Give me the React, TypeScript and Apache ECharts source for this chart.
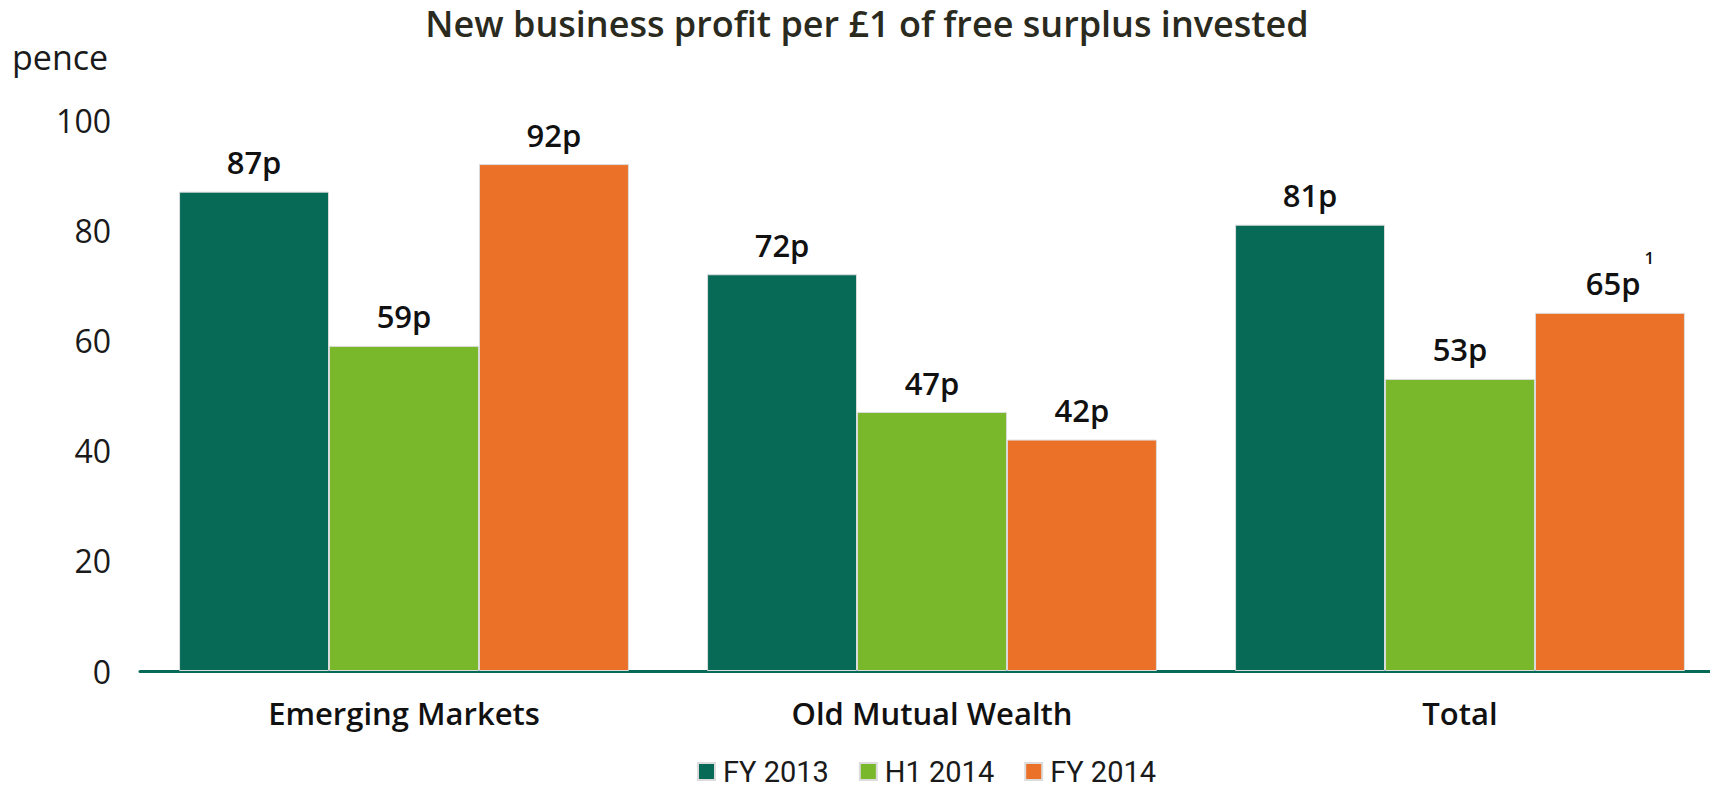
import React, { useEffect, useRef } from "react";
import * as echarts from "echarts";

const title = "New business profit per £1 of free surplus invested";
const yUnit = "pence";
const categories = ["Emerging Markets", "Old Mutual Wealth", "Total"];
const seriesNames = ["FY 2013", "H1 2014", "FY 2014"];
const fy2013 = [87, 72, 81];
const h12014 = [59, 47, 53];
const fy2014 = [92, 42, 65];
const fy2014Notes = ["", "", "1"];
const colors = ["#076A57", "#78B82A", "#EB7128"];

const FONT = "'Open Sans', 'Noto Sans', sans-serif";

export default function App() {
  const ref = useRef<HTMLDivElement>(null);
  useEffect(() => {
    document.body.style.margin = "0";
    const chart = echarts.init(ref.current!, undefined, { renderer: "svg" });
    const labelBase = {
      show: true,
      position: "top" as const,
      distance: 14,
      fontFamily: FONT,
      fontSize: 31,
      fontWeight: 600,
      color: "#111",
    };
    const makeSeries = (name: string, data: number[], color: string, notes?: string[]) => ({
      name,
      type: "bar",
      data,
      barGap: "0%",
      barCategoryGap: "14.8%",
      itemStyle: { color, borderColor: "#dcdcdc", borderWidth: 1 },
      label: {
        ...labelBase,
        formatter: (p: any) => {
          const note = notes ? notes[p.dataIndex] : "";
          return note ? `{v|${p.value}p}{s|${note}}` : `${p.value}p`;
        },
        rich: {
          v: {
            fontFamily: FONT,
            fontSize: 31,
            fontWeight: 600,
            color: "#111",
            padding: [0, 0, 0, 20],
            lineHeight: 50,
            verticalAlign: "bottom",
          },
          s: {
            fontFamily: FONT,
            fontSize: 17,
            color: "#111",
            padding: [0, 0, 0, 4],
            lineHeight: 50,
            verticalAlign: "top",
          },
        },
      },
    });
    chart.setOption({
      animation: false,
      backgroundColor: "#fff",
      color: colors,
      title: {
        text: title,
        left: 862,
        textAlign: "center",
        top: 0,
        textStyle: { fontFamily: FONT, fontSize: 36, fontWeight: 600, color: "#2a2a1e" },
      },
      graphic: [
        {
          type: "text",
          left: 12,
          top: 40,
          style: { text: yUnit, fontFamily: FONT, fontSize: 34, fill: "#1a1a1a" },
        },
      ],
      legend: {
        data: seriesNames,
        left: 692,
        top: 752,
        icon: "rect",
        itemWidth: 17,
        itemHeight: 17,
        itemGap: 30,
        textStyle: {
          fontFamily: "Roboto, 'Open Sans', sans-serif",
          fontSize: 29,
          lineHeight: 29,
          color: "#1a1a1a",
          padding: [0, 0, 0, 3],
        },
      },
      grid: {
        left: 140,
        width: 1584,
        top: 120,
        bottom: 123,
        containLabel: false,
        outerBoundsMode: "none",
      },
      xAxis: {
        type: "category",
        data: categories,
        axisLine: { lineStyle: { color: "#076A57", width: 3 } },
        axisTick: { show: false },
        axisLabel: {
          margin: 26,
          fontFamily: FONT,
          fontSize: 31,
          fontWeight: 600,
          color: "#111",
        },
      },
      yAxis: {
        type: "value",
        min: 0,
        max: 100,
        interval: 20,
        axisLine: { show: false },
        axisTick: { show: false },
        splitLine: { show: false },
        axisLabel: { margin: 29, fontFamily: FONT, fontSize: 32, color: "#1a1a1a" },
      },
      series: [
        makeSeries(seriesNames[0], fy2013, colors[0]),
        makeSeries(seriesNames[1], h12014, colors[1]),
        makeSeries(seriesNames[2], fy2014, colors[2], fy2014Notes),
      ],
    });
    return () => chart.dispose();
  }, []);
  return <div ref={ref} style={{ width: 1710, height: 794 }} />;
}
